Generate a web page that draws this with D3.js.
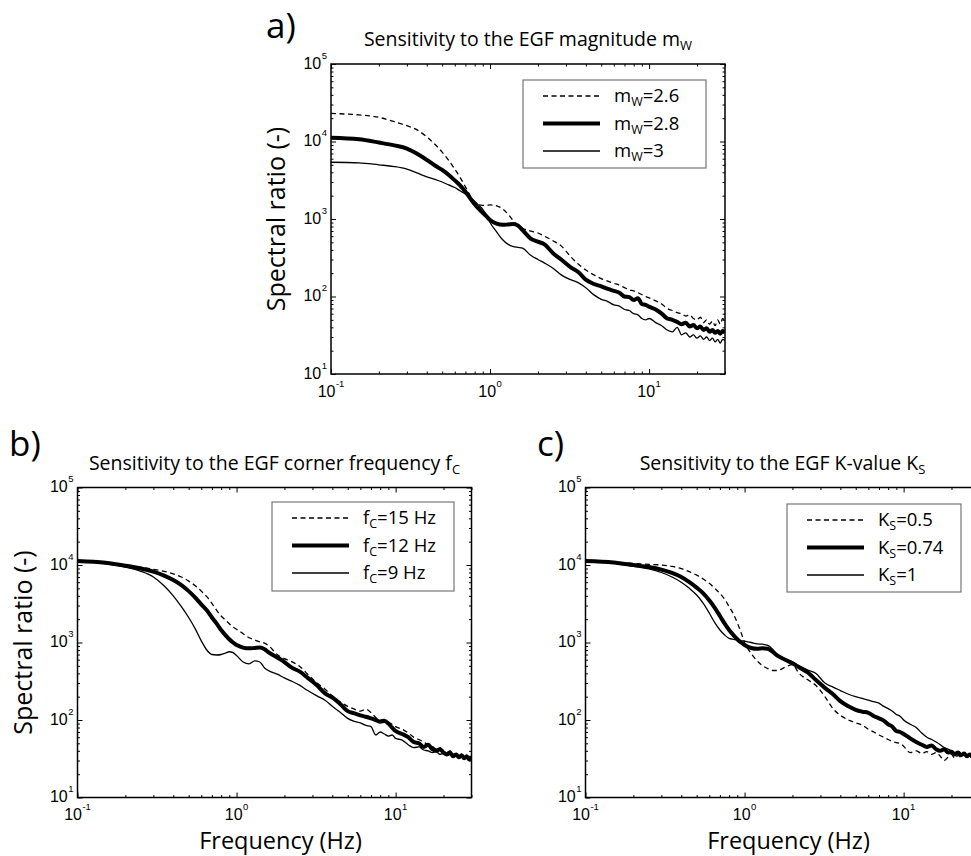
<!DOCTYPE html>
<html>
<head>
<meta charset="utf-8">
<script src="https://cdn.jsdelivr.net/npm/d3@7"></script>
<style>
  body { margin: 0; background: #fff; }
  svg { display: block; }
</style>
</head>
<body>
<div id="chart"></div>
<script>
// frequencies (Hz) shared by every curve
const freqs = [0.1, 0.15, 0.2, 0.25, 0.3, 0.35, 0.4, 0.45, 0.5, 0.55, 0.6, 0.65, 0.7, 0.75, 0.8, 0.85, 0.9, 0.95,
  1.0, 1.1, 1.2, 1.3, 1.4, 1.5, 1.6, 1.8, 2.0, 2.2, 2.5, 2.8, 3.2, 3.6, 4.0, 4.5, 5, 5.5, 6, 6.5, 7, 7.5, 8, 8.5, 9, 9.5,
  10, 11, 12, 13, 14, 15, 16, 17, 18, 19, 20, 21, 22, 23, 24, 25, 26, 27, 28, 29, 30];

// a) EGF magnitude
const mw26 = [23000, 22000, 20500, 18000, 16000, 14000, 11500, 9200, 7300, 5700, 4400, 3400, 2600, 2000, 1650, 1520, 1500, 1500,
  1520, 1480, 1350, 1150, 950, 820, 760, 700, 660, 600, 520, 450, 330, 260, 220, 190, 170, 158, 148, 140, 130, 122, 118, 112, 106, 100,
  96, 88, 80, 70, 66, 62, 60, 56, 58, 52, 50, 54, 46, 50, 44, 48, 42, 50, 44, 52, 46];
const mw28 = [11200, 10700, 9700, 8900, 8100, 6900, 5800, 4900, 4300, 3700, 3150, 2700, 2250, 1850, 1550, 1350, 1200, 1080,
  970, 870, 840, 850, 860, 820, 720, 560, 510, 470, 360, 300, 240, 205, 165, 145, 135, 125, 118, 112, 100, 98, 90, 95, 80, 78,
  74, 68, 60, 52, 50, 47, 44, 46, 41, 43, 39, 41, 37, 39, 35, 37, 34, 36, 33, 36, 34];
const mw30 = [5400, 5300, 5000, 4750, 4400, 3900, 3500, 3250, 3000, 2750, 2550, 2300, 2100, 1900, 1700, 1500, 1330, 1120,
  900, 680, 540, 470, 440, 430, 420, 340, 300, 270, 230, 190, 165, 150, 130, 105, 92, 86, 78, 75, 68, 66, 60, 58, 52, 50,
  52, 46, 42, 37, 35, 40, 32, 34, 30, 32, 29, 31, 28, 30, 27, 29, 26, 28, 25, 28, 27];

// b) EGF corner frequency
const fc15 = [11300, 10800, 10000, 9400, 8800, 8300, 7700, 7000, 6200, 5400, 4600, 3900, 3200, 2600, 2200, 1950, 1750, 1580,
  1480, 1300, 1150, 1080, 1020, 980, 900, 700, 620, 570, 490, 390, 300, 250, 205, 170, 150, 138, 130, 138, 125, 108, 100, 102, 94, 88,
  82, 76, 68, 60, 56, 52, 48, 46, 42, 44, 40, 38, 40, 36, 37, 34, 36, 33, 35, 32, 34];
const fc12 = [11300, 10700, 9800, 9000, 8200, 7300, 6400, 5500, 4600, 3800, 3100, 2600, 2100, 1750, 1450, 1250, 1100, 1000,
  930, 860, 840, 850, 860, 820, 740, 640, 560, 480, 420, 350, 280, 220, 195, 160, 130, 122, 115, 110, 105, 100, 95, 97, 90, 80,
  72, 66, 60, 52, 50, 45, 48, 42, 40, 42, 38, 36, 38, 34, 36, 33, 35, 32, 34, 31, 34];
const fc9 = [11300, 10400, 9400, 8300, 7000, 5400, 4000, 2900, 2100, 1500, 1050, 800, 700, 690, 700, 730, 760, 740,
  680, 560, 530, 580, 560, 470, 430, 390, 350, 320, 280, 240, 205, 180, 150, 125, 105, 96, 92, 85, 82, 64, 70, 66, 62, 64,
  58, 55, 48, 44, 45, 41, 40, 38, 39, 36, 37, 35, 36, 34, 35, 33, 34, 32, 34, 32, 33];

// c) EGF K-value
const ks05 = [11300, 10900, 10500, 10200, 10000, 9600, 9000, 8200, 7400, 6600, 5800, 5000, 4300, 3600, 2900, 2350, 1800, 1350,
  1000, 720, 580, 500, 460, 435, 435, 480, 520, 400, 330, 280, 200, 140, 115, 100, 92, 86, 76, 70, 64, 60, 56, 53, 51, 50,
  46, 38, 40, 37, 39, 36, 38, 34, 30, 33, 36, 32, 35, 33, 36, 34, 33, 35, 34, 33, 35];
const ks074 = [11300, 10800, 10000, 9400, 8700, 7900, 7000, 6000, 5100, 4300, 3500, 2800, 2200, 1750, 1450, 1250, 1100, 1000,
  930, 850, 830, 840, 830, 760, 680, 600, 540, 480, 410, 330, 260, 215, 175, 150, 135, 128, 124, 112, 105, 98, 88, 82, 72, 70,
  66, 58, 52, 48, 45, 47, 42, 40, 42, 38, 39, 36, 38, 35, 37, 34, 36, 34, 35, 33, 35];
const ks1 = [11300, 10600, 9600, 8900, 8000, 7000, 6000, 5000, 4100, 3200, 2400, 1800, 1450, 1250, 1130, 1100, 1080, 1060,
  1040, 1000, 960, 950, 920, 820, 700, 600, 560, 500, 440, 400, 300, 265, 240, 215, 200, 190, 180, 172, 165, 150, 140, 130, 118, 112,
  100, 88, 80, 68, 60, 56, 52, 48, 44, 42, 40, 38, 39, 36, 37, 35, 36, 34, 35, 34, 36];

// axis limits and tick labels
const xLimits = [0.1, 30];
const yLimits = [10, 1e5];
const xMajor = [0.1, 1, 10];
const yMajor = [10, 100, 1000, 10000, 100000];

// text: [main, subscript, after]
const titles = [
  ['Sensitivity to the EGF magnitude m', 'W', ''],
  ['Sensitivity to the EGF corner frequency f', 'C', ''],
  ['Sensitivity to the EGF K-value K', 'S', '']
];
const legendA = [['m', 'W', '=2.6'], ['m', 'W', '=2.8'], ['m', 'W', '=3']];
const legendB = [['f', 'C', '=15 Hz'], ['f', 'C', '=12 Hz'], ['f', 'C', '=9 Hz']];
const legendC = [['K', 'S', '=0.5'], ['K', 'S', '=0.74'], ['K', 'S', '=1']];
const panelLetters = ['a)', 'b)', 'c)'];
const yLabel = 'Spectral ratio (-)';
const xLabel = 'Frequency (Hz)';

const width = 971;
const height = 856;
const plotW = 394;
const plotH = 310;

const styles = [
  { w: 1.3, dash: '5,3.5' },
  { w: 4, dash: null },
  { w: 1.3, dash: null }
];

const textFont = '"Open Sans", "Noto Sans", sans-serif';
const tickFont = '"Liberation Sans", Arial, sans-serif';
const tickSize = 16;
const expSize = 9.5;

const svg = d3.select('#chart')
  .append('svg')
  .attr('width', width)
  .attr('height', height);

svg.append('rect')
  .attr('width', width)
  .attr('height', height)
  .attr('fill', '#fff');

const panels = [
  { left: 331, top: 64, series: [mw26, mw28, mw30], legend: legendA, title: titles[0], letter: panelLetters[0],
    letterX: 266, letterY: 38, legendBox: [523, 80, 183, 88], yLab: true, xLab: false, xTickDy: 23 },
  { left: 77.5, top: 487.5, series: [fc15, fc12, fc9], legend: legendB, title: titles[1], letter: panelLetters[1],
    letterX: 9, letterY: 456, legendBox: [272, 502, 182, 89], yLab: true, xLab: true, xTickDy: 22.5 },
  { left: 585.5, top: 487.5, series: [ks05, ks074, ks1], legend: legendC, title: titles[2], letter: panelLetters[2],
    letterX: 537, letterY: 456, legendBox: [787, 504, 174, 88], yLab: false, xLab: true, xTickDy: 22.5 }
];

const addSubText = (sel, parts, subSize, shift) => {
  sel.append('tspan').text(parts[0]);
  sel.append('tspan').attr('dy', shift).attr('font-size', subSize).text(parts[1]);
  if (parts[2]) sel.append('tspan').attr('dy', -shift).text(parts[2]);
};

// "10" and its exponent as two texts, placed from their measured widths
const powerLabel = (g, v, anchorX, baseY, mode) => {
  const base = g.append('text')
    .attr('y', baseY)
    .attr('font-family', tickFont)
    .attr('font-size', tickSize)
    .attr('fill', '#000')
    .text('10');
  const exp = g.append('text')
    .attr('y', baseY - 10)
    .attr('font-family', tickFont)
    .attr('font-size', expSize)
    .attr('fill', '#000')
    .text(String(Math.round(Math.log10(v))));
  const wb = base.node().getComputedTextLength();
  const we = exp.node().getComputedTextLength();
  const x0 = mode === 'center' ? anchorX - (wb + we + 0.5) / 2 : anchorX - (wb + we + 0.5);
  base.attr('x', x0);
  exp.attr('x', x0 + wb + 0.5);
};

panels.forEach((p, pi) => {
  const g = svg.append('g');
  const xScale = d3.scaleLog().domain(xLimits).range([p.left, p.left + plotW]);
  const yScale = d3.scaleLog().domain(yLimits).range([p.top + plotH, p.top]);
  const bottom = p.top + plotH;
  const right = p.left + plotW;

  const clipId = 'clip' + pi;
  g.append('clipPath').attr('id', clipId)
    .append('rect')
    .attr('x', p.left).attr('y', p.top)
    .attr('width', plotW).attr('height', plotH);

  const line = d3.line()
    .x(d => xScale(d[0]))
    .y(d => yScale(d[1]))
    .curve(d3.curveMonotoneX);

  // curves
  [0, 2, 1].forEach(si => {
    g.append('path')
      .datum(d3.zip(freqs, p.series[si]))
      .attr('clip-path', 'url(#' + clipId + ')')
      .attr('fill', 'none')
      .attr('stroke', '#000')
      .attr('stroke-width', styles[si].w)
      .attr('stroke-linejoin', 'round')
      .attr('stroke-dasharray', styles[si].dash)
      .attr('d', line);
  });

  // ticks (inward, all four sides)
  const xMinor = xScale.ticks().filter(v => !xMajor.some(m => Math.abs(m - v) < 1e-9));
  const yMinor = yScale.ticks().filter(v => !yMajor.some(m => Math.abs(m - v) < 1e-9));

  const mk = (axisFn, scale, vals, size, tr) => {
    const a = g.append('g')
      .attr('transform', tr)
      .call(axisFn(scale).tickValues(vals).tickSize(-size).tickSizeOuter(0).tickFormat(() => ''));
    a.select('.domain').remove();
    a.selectAll('.tick line').attr('stroke', '#000').attr('stroke-width', 1);
    return a;
  };
  mk(d3.axisBottom, xScale, xMajor, 5, 'translate(0,' + bottom + ')');
  mk(d3.axisBottom, xScale, xMinor, 2.5, 'translate(0,' + bottom + ')');
  mk(d3.axisTop, xScale, xMajor, 5, 'translate(0,' + p.top + ')');
  mk(d3.axisTop, xScale, xMinor, 2.5, 'translate(0,' + p.top + ')');
  mk(d3.axisLeft, yScale, yMajor, 5, 'translate(' + p.left + ',0)');
  mk(d3.axisLeft, yScale, yMinor, 2.5, 'translate(' + p.left + ',0)');
  mk(d3.axisRight, yScale, yMajor, 5, 'translate(' + right + ',0)');
  mk(d3.axisRight, yScale, yMinor, 2.5, 'translate(' + right + ',0)');

  // frame
  g.append('rect')
    .attr('x', p.left).attr('y', p.top)
    .attr('width', plotW).attr('height', plotH)
    .attr('fill', 'none')
    .attr('stroke', '#000')
    .attr('stroke-width', 1.5);

  // tick labels 10^n
  xMajor.forEach(v => powerLabel(g, v, xScale(v), bottom + p.xTickDy, 'center'));
  yMajor.forEach(v => powerLabel(g, v, p.left - 4, yScale(v) + 4.5, 'end'));

  // legend
  const [lx, ly, lw, lh] = p.legendBox;
  g.append('rect')
    .attr('x', lx).attr('y', ly)
    .attr('width', lw).attr('height', lh)
    .attr('fill', '#fff')
    .attr('stroke', '#777')
    .attr('stroke-width', 1.2);
  p.legend.forEach((lab, i) => {
    const ry = ly + 16 + i * 27.5;
    g.append('line')
      .attr('x1', lx + 20).attr('x2', lx + 77)
      .attr('y1', ry).attr('y2', ry)
      .attr('stroke', '#000')
      .attr('stroke-width', styles[i].w)
      .attr('stroke-dasharray', styles[i].dash);
    const t = g.append('text')
      .attr('x', lx + 91)
      .attr('y', ry + 6)
      .attr('font-family', textFont)
      .attr('font-size', 18.5)
      .attr('fill', '#000');
    addSubText(t, lab, 12.5, 4);
  });

  // title
  const tt = g.append('text')
    .attr('x', p.left + plotW / 2)
    .attr('y', p.top - 18)
    .attr('text-anchor', 'middle')
    .attr('font-family', textFont)
    .attr('font-size', 19.5)
    .attr('fill', '#000');
  addSubText(tt, p.title, 13, 4);

  // panel letter
  g.append('text')
    .attr('x', p.letterX)
    .attr('y', p.letterY)
    .attr('font-family', textFont)
    .attr('font-size', 35)
    .attr('fill', '#000')
    .text(p.letter);

  if (p.yLab) {
    g.append('text')
      .attr('transform', 'translate(' + (p.left - 46) + ',' + (p.top + plotH / 2) + ') rotate(-90)')
      .attr('text-anchor', 'middle')
      .attr('font-family', textFont)
      .attr('font-size', 25)
      .attr('fill', '#000')
      .text(yLabel);
  }
  if (p.xLab) {
    g.append('text')
      .attr('x', p.left + plotW / 2 + 6)
      .attr('y', bottom + 51)
      .attr('text-anchor', 'middle')
      .attr('font-family', textFont)
      .attr('font-size', 23.5)
      .attr('fill', '#000')
      .text(xLabel);
  }
});
</script>
</body>
</html>
